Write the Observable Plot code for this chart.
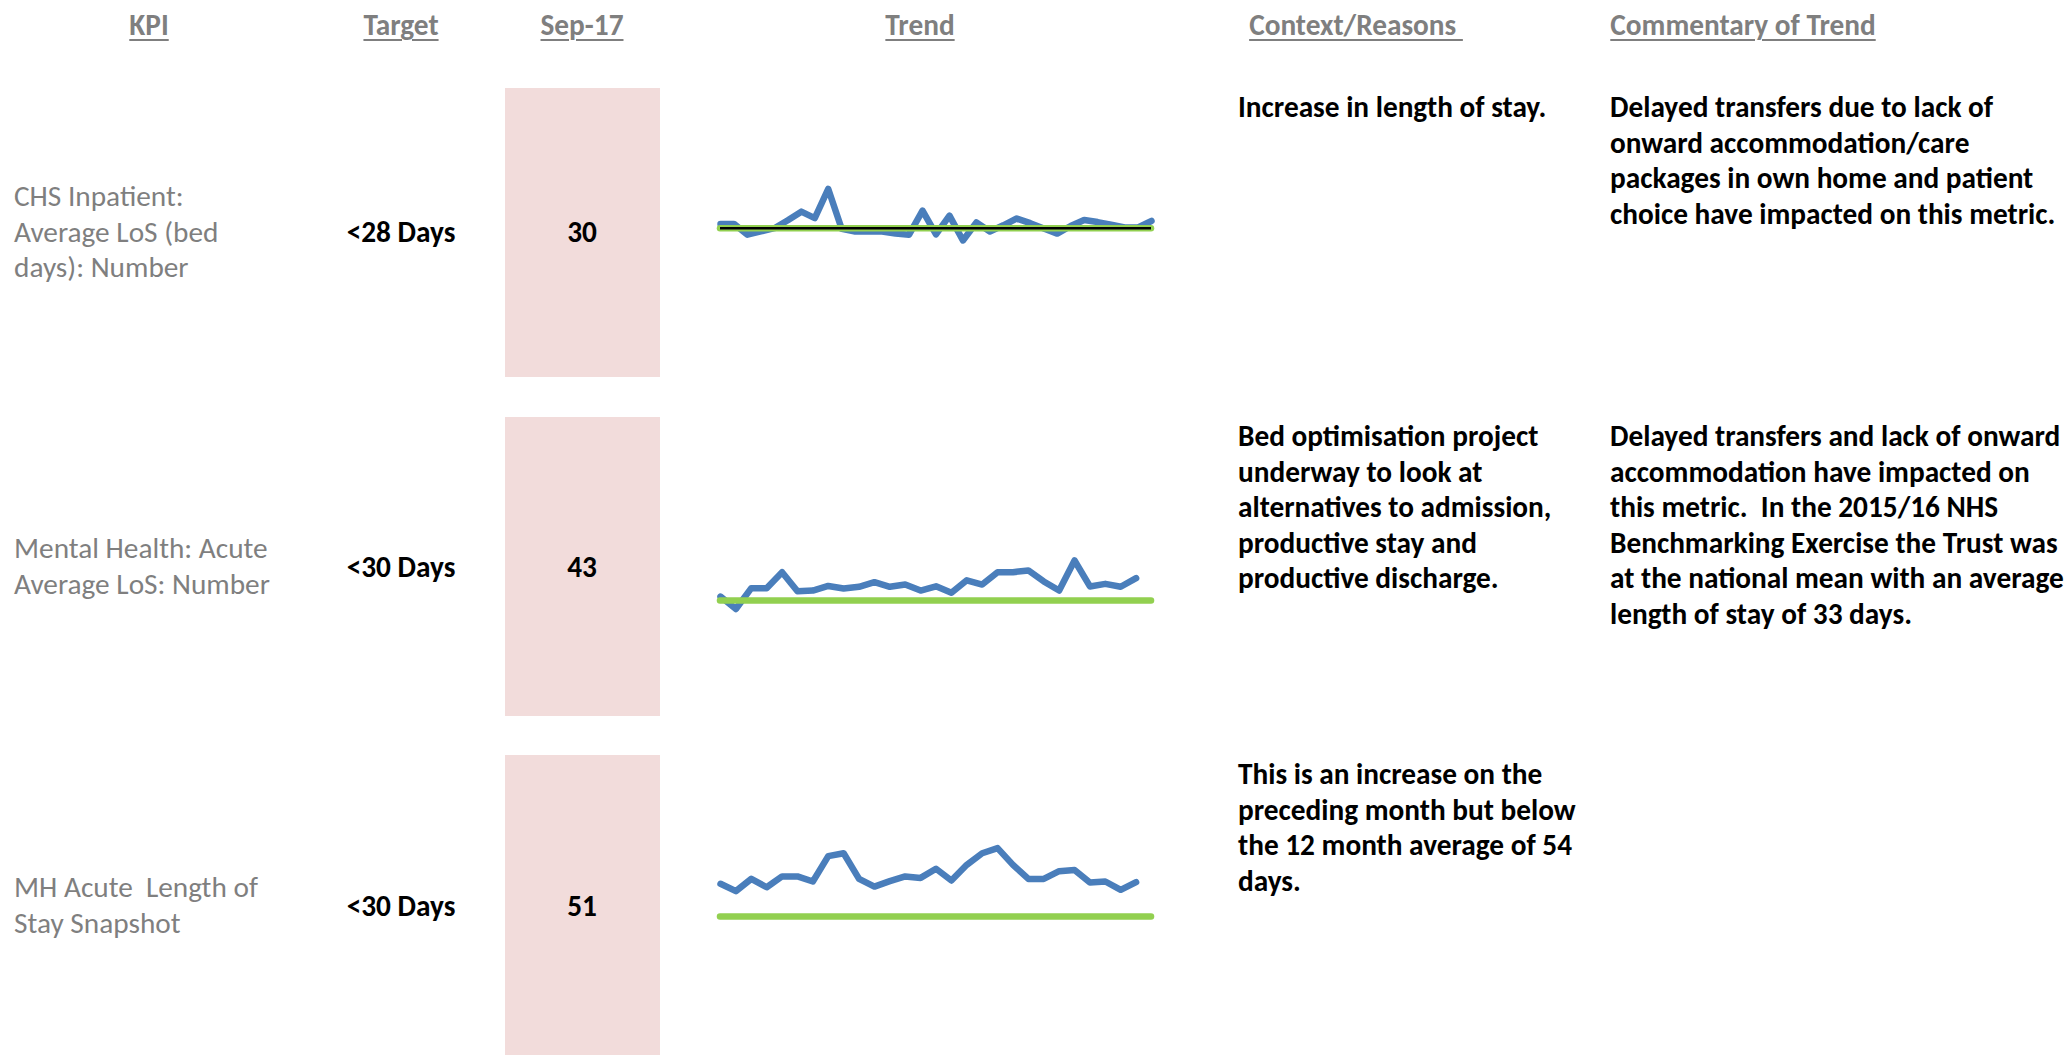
<!DOCTYPE html>
<html>
<head>
<meta charset="utf-8">
<title>Length of Stay KPIs</title>
<script src="https://cdn.jsdelivr.net/npm/d3@7"></script>
<script src="https://cdn.jsdelivr.net/npm/@observablehq/plot@0.6"></script>
<style>
  body { margin: 0; background: #fff; }
  #sheet {
    position: relative; width: 2069px; height: 1055px; overflow: hidden;
    font-family: Carlito, Calibri, Lato, sans-serif;
    font-size: 29.3px; line-height: 35.6px;
  }
  .hdr {
    position: absolute; top: 8px; transform: translateX(-50%);
    font-weight: bold; color: #7f7f7f; white-space: pre;
    text-decoration: underline; text-decoration-thickness: 2px; text-underline-offset: 4px;
  }
  .kpi { position: absolute; left: 14px; color: #7f7f7f; transform: translateY(-50%); white-space: pre; }
  .mid { position: absolute; transform: translate(-50%, -50%); font-weight: bold; color: #000; white-space: pre; }
  .cell { position: absolute; left: 505px; width: 155px; background: #f2dcdb; }
  .note { position: absolute; font-weight: bold; color: #000; white-space: pre; }
  .spark { position: absolute; left: 700px; }
</style>
</head>
<body>
<div id="sheet"></div>
<script>
// Column headings
const headers = ["KPI", "Target", "Sep-17", "Trend", "Context/Reasons ", "Commentary of Trend"];

// KPI names, one entry per row (already wrapped into lines)
const kpiLabels = [
  ["CHS Inpatient:", "Average LoS (bed", "days): Number"],
  ["Mental Health: Acute", "Average LoS: Number"],
  ["MH Acute  Length of", "Stay Snapshot"]
];

// Targets in days (upper limits)
const targets = [28, 30, 30];

// Monthly trend values (days); the final value is the Sep-17 figure
const chsInpatientLos = [29.2, 29.2, 26.2, 27.1, 28.0, 30.2, 32.6, 30.8, 38.9, 27.8, 27.1,
  27.1, 27.1, 26.5, 26.2, 32.9, 26.3, 31.5, 24.6, 29.6, 27.1, 28.8, 30.7, 29.4, 27.9, 26.5,
  28.6, 30.3, 29.7, 29.0, 28.2, 28.2, 30];
const mhAcuteLos = [32.3, 25.1, 37.2, 37.2, 46.5, 35.4, 35.8, 38.5, 37.0, 38.0, 40.7, 38.0,
  39.3, 35.8, 38.3, 34.5, 41.8, 39.3, 46.5, 46.5, 47.5, 41.1, 35.8, 53.3, 38.2, 39.7, 38.0, 43];
const mhAcuteSnapshot = [50.0, 45.5, 53.0, 47.9, 54.5, 54.5, 51.4, 66.9, 68.7, 53.0, 48.3, 51.6,
  54.5, 53.6, 59.2, 52.0, 61.6, 68.7, 71.8, 61.6, 53.0, 53.0, 57.7, 58.5, 50.8, 51.4, 46.3, 51];

// Number of monthly slots on each trend axis
const trendMonths = [33, 29, 29];

// Free-text columns
const contextReasons = [
  ["Increase in length of stay."],
  ["Bed optimisation project", "underway to look at", "alternatives to admission,", "productive stay and", "productive discharge."],
  ["This is an increase on the", "preceding month but below", "the 12 month average of 54", "days."]
];
const commentary = [
  ["Delayed transfers due to lack of", "onward accommodation/care", "packages in own home and patient", "choice have impacted on this metric."],
  ["Delayed transfers and lack of onward", "accommodation have impacted on", "this metric.  In the 2015/16 NHS", "Benchmarking Exercise the Trust was", "at the national mean with an average", "length of stay of 33 days."],
  []
];

const series = [chsInpatientLos, mhAcuteLos, mhAcuteSnapshot];

// ---- layout ----
const sheet = document.getElementById("sheet");
const headerX = [149, 401, 582, 920, 1356, 1743];
const rowTop = [88, 417, 755];
const rowBottom = [377, 716, 1055];
const rowMid = [232, 567, 906];
// vertical scale for each sparkline: [domain, range within the row]
const sparkY = [
  {domain: [20, 40], range: [168.5, 96.5]},
  {domain: [20, 60], range: [200.2, 131.5]},
  {domain: [20, 80], range: [177.35, 79.25]}
];

function addDiv(cls, text, style) {
  const d = document.createElement("div");
  d.className = cls;
  d.textContent = text;
  Object.assign(d.style, style);
  sheet.appendChild(d);
  return d;
}

headers.forEach((h, i) => addDiv("hdr", h, {left: headerX[i] + "px"}));

series.forEach((values, r) => {
  addDiv("cell", "", {top: rowTop[r] + "px", height: (rowBottom[r] - rowTop[r]) + "px"});
  addDiv("kpi", kpiLabels[r].join("\n"), {top: rowMid[r] + "px"});
  addDiv("mid", `<${targets[r]} Days`, {left: "401px", top: (rowMid[r] + 1) + "px"});
  addDiv("mid", d3.format(".0f")(values[values.length - 1]), {left: "582px", top: (rowMid[r] + 1) + "px"});
  addDiv("note", contextReasons[r].join("\n"), {left: "1238px", top: (rowTop[r] + 2) + "px"});
  addDiv("note", commentary[r].join("\n"), {left: "1610px", top: (rowTop[r] + 2) + "px"});

  const n = trendMonths[r];
  const marks = [
    Plot.lineY(values, {stroke: "#4a7ebb", strokeWidth: 6.5, strokeLinejoin: "round", strokeLinecap: "round"}),
    Plot.ruleY([targets[r]], {x1: 0, x2: n - 1, stroke: "#92d050", strokeWidth: 6.5, strokeLinecap: "round"})
  ];
  if (r === 0) marks.push(Plot.ruleY([targets[r]], {x1: 0, x2: n - 1, stroke: "#000", strokeWidth: 2.5}));

  const svg = Plot.plot({
    width: 470,
    height: rowBottom[r] - rowTop[r],
    margin: 0,
    x: {domain: [0, n - 1], range: [20, 451], axis: null},
    y: {...sparkY[r], axis: null},
    marks
  });
  svg.classList.add("spark");
  svg.style.top = rowTop[r] + "px";
  svg.style.background = "transparent";
  sheet.appendChild(svg);
});
</script>
</body>
</html>
